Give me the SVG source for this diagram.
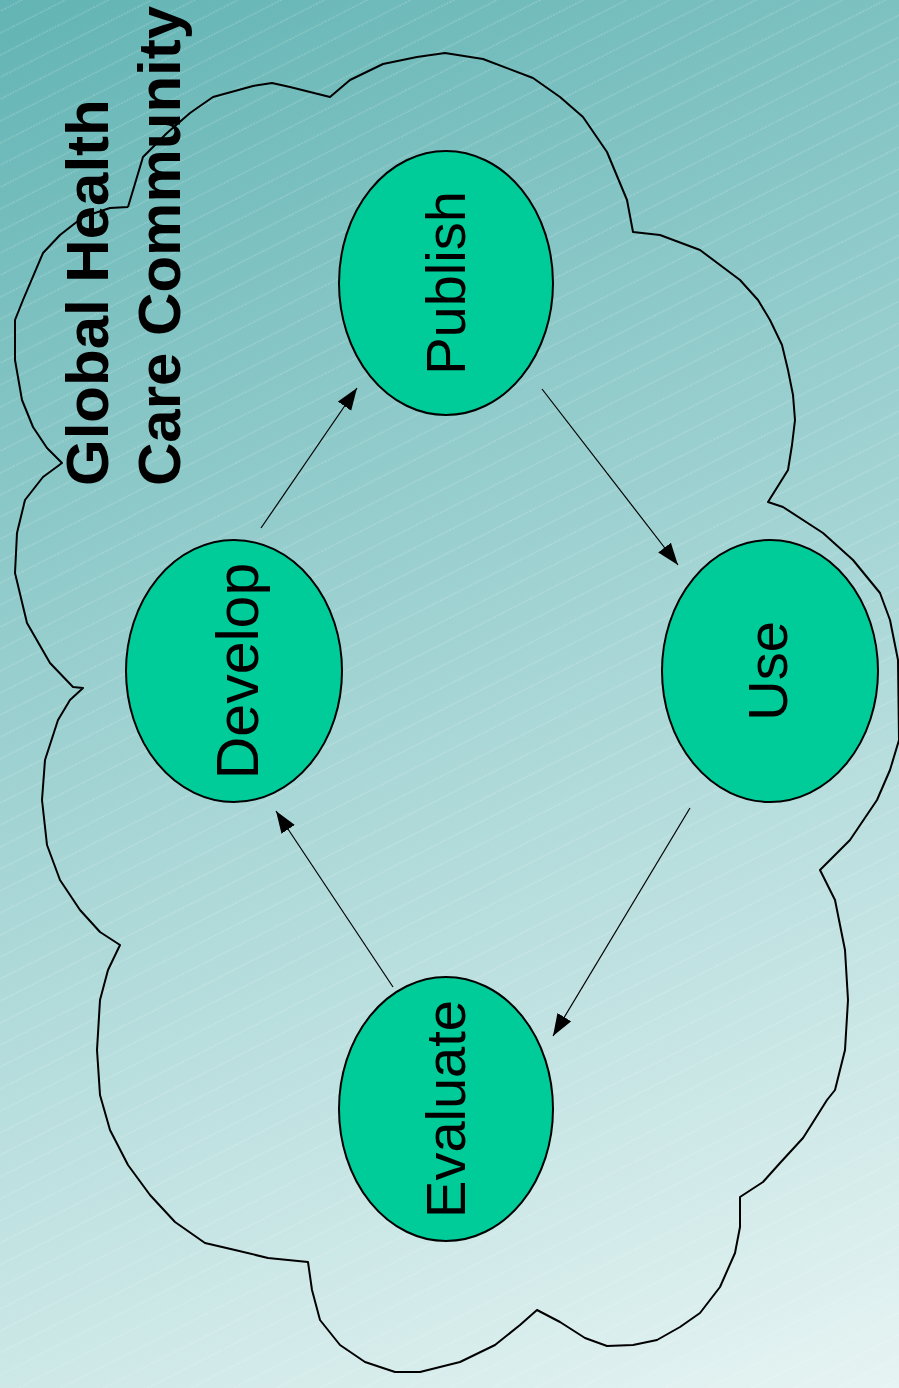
<svg xmlns="http://www.w3.org/2000/svg" width="899" height="1388" viewBox="0 0 899 1388">
  <defs>
    <linearGradient id="bg" gradientUnits="userSpaceOnUse" x1="0" y1="0" x2="577" y2="1511">
      <stop offset="0" stop-color="#63b4b4"/>
      <stop offset="0.5" stop-color="#a6d5d5"/>
      <stop offset="1" stop-color="#e6f4f3"/>
    </linearGradient>
    <pattern id="hatch" patternUnits="userSpaceOnUse" width="40" height="19.6" patternTransform="rotate(-27)">
      <line x1="0" y1="10" x2="40" y2="10" stroke="#ffffff" stroke-opacity="0.35" stroke-width="0.8" stroke-dasharray="2 1"/>
    </pattern>
    <marker id="arrow" markerUnits="userSpaceOnUse" markerWidth="24" markerHeight="18" refX="22" refY="8" orient="auto">
      <path d="M0,0 L22,8 L0,16 Z" fill="#000"/>
    </marker>
    <style>
      .node ellipse { fill: #00cc99; stroke: #000; stroke-width: 2; }
      .node text { font-family: "Liberation Sans", Arial, sans-serif; font-size: 56px; fill: #000; text-anchor: middle; }
      .title { font-family: "Liberation Sans", Arial, sans-serif; font-size: 60px; font-weight: bold; fill: #000; }
      .edge { stroke: #000; stroke-width: 1.2; fill: none; marker-end: url(#arrow); }
      .cloud { fill: none; stroke: #000; stroke-width: 2; stroke-linejoin: round; }
    </style>
  </defs>
  <rect width="899" height="1388" fill="url(#bg)"/>
  <rect width="899" height="1388" fill="url(#hatch)"/>

  <g id="cloud">
    <polyline class="cloud" points="128,207 143,157 167,133 190,113 213,97 253,86 272,83 290,87 330,97 350,80 383,64 417,57 445,53 483,59 533,78 560,97 583,117 607,152 627,200 633,232 660,235 700,250 740,280 758,300 770,320 782,345 788,370 793,395 795,420 792,445 788,470 768,502 783,507 823,533 853,560 880,593 890,620 898,660 899,740 890,770 877,800 850,840 820,870 835,900 845,950 848,1000 845,1050 835,1090 827,1100 810,1127 803,1138 780,1163 763,1182 740,1197 740,1227 735,1253 720,1287 700,1313 680,1327 657,1340 633,1345 607,1346 585,1338 560,1322 537,1310 520,1325 495,1345 460,1362 420,1372 395,1372 365,1362 340,1345 320,1320 312,1290 308,1262 268,1258 235,1250 205,1243 175,1222 150,1195 128,1165 110,1130 100,1095 97,1050 100,1000 108,970 120,945 100,932 80,910 60,880 47,845 42,800 45,760 58,720 70,700 83,688 73,687 50,663 27,623 15,573 17,533 25,500 43,477 62,463 47,448 33,427 22,400 15,360 15,320 23,300 43,253 60,235 83,217 110,208 128,207"/>
  </g>

  <g id="title">
    <text class="title" transform="translate(108,486) rotate(-90)">Global Health</text>
    <text class="title" transform="translate(180,486) rotate(-90)">Care Community</text>
  </g>

  <g id="connectors">
    <line class="edge" x1="261" y1="528" x2="357" y2="388"/>
    <line class="edge" x1="542" y1="389" x2="678" y2="565"/>
    <line class="edge" x1="690" y1="808" x2="553" y2="1036"/>
    <line class="edge" x1="393" y1="987" x2="276" y2="811"/>
  </g>

  <g id="publish" class="node">
    <ellipse cx="446" cy="283" rx="107" ry="132"/>
    <text transform="translate(465,283) rotate(-90)">Publish</text>
  </g>
  <g id="use" class="node">
    <ellipse cx="770" cy="671" rx="108" ry="131"/>
    <text transform="translate(787,671) rotate(-90)">Use</text>
  </g>
  <g id="develop" class="node">
    <ellipse cx="234" cy="671" rx="108" ry="131"/>
    <text transform="translate(258,671) rotate(-90)" style="font-size:59px">Develop</text>
  </g>
  <g id="evaluate" class="node">
    <ellipse cx="446" cy="1109" rx="107" ry="132"/>
    <text transform="translate(465,1109) rotate(-90)">Evaluate</text>
  </g>
</svg>
